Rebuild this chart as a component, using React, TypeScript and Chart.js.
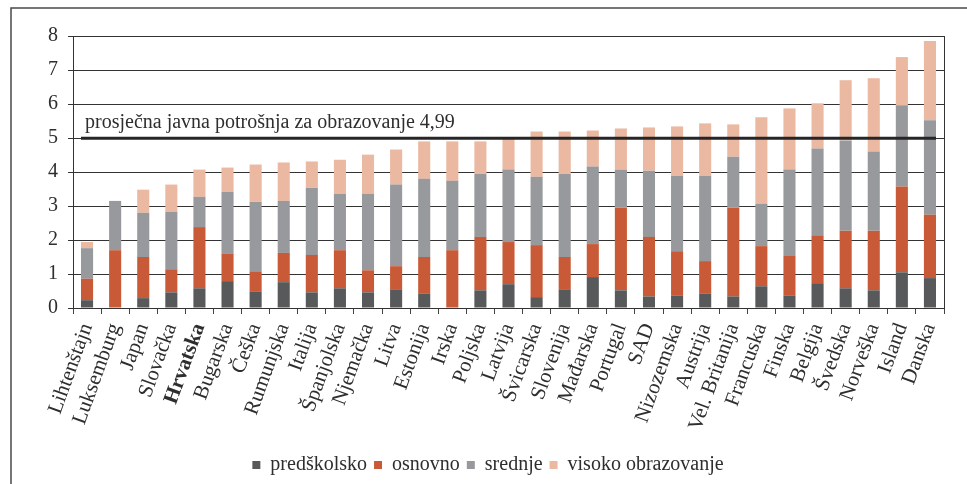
import React, { useEffect, useRef } from 'react';
import { Chart, registerables } from 'chart.js';

Chart.register(...registerables);

const categories = [
  'Lihtenštajn', 'Luksemburg', 'Japan', 'Slovačka', 'Hrvatska', 'Bugarska', 'Češka',
  'Rumunjska', 'Italija', 'Španjolska', 'Njemačka', 'Litva', 'Estonija', 'Irska',
  'Poljska', 'Latvija', 'Švicarska', 'Slovenija', 'Mađarska', 'Portugal', 'SAD',
  'Nizozemska', 'Austrija', 'Vel. Britanija', 'Francuska', 'Finska', 'Belgija',
  'Švedska', 'Norveška', 'Island', 'Danska',
];

const predskolsko = [0.23, 0, 0.29, 0.46, 0.58, 0.79, 0.49, 0.76, 0.46, 0.58, 0.46, 0.55, 0.43, 0, 0.52, 0.70, 0.32, 0.55, 0.91, 0.52, 0.34, 0.37, 0.43, 0.34, 0.64, 0.37, 0.73, 0.58, 0.52, 1.05, 0.88];
const osnovno = [0.63, 1.70, 1.21, 0.68, 1.80, 0.80, 0.59, 0.86, 1.10, 1.12, 0.65, 0.68, 1.07, 1.70, 1.57, 1.24, 1.53, 0.95, 0.97, 2.43, 1.75, 1.30, 0.95, 2.61, 1.18, 1.16, 1.39, 1.69, 1.75, 2.52, 1.86];
const srednje = [0.90, 1.45, 1.30, 1.69, 0.89, 1.83, 2.04, 1.53, 1.98, 1.66, 2.25, 2.40, 2.30, 2.04, 1.86, 2.13, 2.01, 2.45, 2.28, 1.12, 1.95, 2.22, 2.51, 1.50, 1.24, 2.54, 2.57, 2.66, 2.33, 2.39, 2.78];
const visoko = [0.18, 0, 0.68, 0.80, 0.80, 0.71, 1.10, 1.13, 0.77, 1.00, 1.15, 1.03, 1.10, 1.16, 0.95, 0.93, 1.33, 1.24, 1.06, 1.21, 1.27, 1.45, 1.54, 0.95, 2.55, 1.80, 1.33, 1.77, 2.16, 1.42, 2.33];

const seriesNames = ['predškolsko', 'osnovno', 'srednje', 'visoko obrazovanje'];
const seriesColors = ['#58595b', '#c95a37', '#98999c', '#ebb8a1'];

const averageValue = 4.99;
const averageLabel = 'prosječna javna potrošnja za obrazovanje 4,99';
const highlightCategory = 'Hrvatska';

const yMin = 0;
const yMax = 8;
const yStep = 1;

const FONT = '"Liberation Serif", "Times New Roman", serif';
const TEXT = '#2e2e2e';

const framePlugin = {
  id: 'frame',
  beforeDraw(chart: any) {
    const { ctx, width, height } = chart;
    ctx.save();
    ctx.fillStyle = '#ffffff';
    ctx.fillRect(0, 0, width, height);
    ctx.strokeStyle = '#4a4a4a';
    ctx.lineWidth = 1.5;
    ctx.beginPath();
    ctx.moveTo(11, height);
    ctx.lineTo(11, 8);
    ctx.lineTo(width, 8);
    ctx.stroke();
    ctx.restore();
  },
};

const legendShiftPlugin = {
  id: 'legendShift',
  afterLayout(chart: any) {
    const lg = chart.legend;
    if (!lg) return;
    lg.left += 16;
    lg.right += 16;
    lg.top += 1;
    lg.bottom += 1;
  },
};

const plotBoxPlugin = {
  id: 'plotBox',
  beforeDatasetsDraw(chart: any) {
    const { ctx, chartArea } = chart;
    ctx.save();
    ctx.strokeStyle = '#333333';
    ctx.lineWidth = 1;
    ctx.beginPath();
    ctx.moveTo(Math.round(chartArea.right) + 0.5, chartArea.top);
    ctx.lineTo(Math.round(chartArea.right) + 0.5, chartArea.bottom);
    ctx.stroke();
    ctx.restore();
  },
};

const averagePlugin = {
  id: 'averageLine',
  afterDatasetsDraw(chart: any) {
    const { ctx } = chart;
    const meta = chart.getDatasetMeta(0);
    const first: any = meta.data[0];
    const last: any = meta.data[meta.data.length - 1];
    if (!first || !last) return;
    const x0 = first.x - first.width / 2;
    const x1 = last.x + last.width / 2;
    const y = chart.scales.y.getPixelForValue(averageValue);
    ctx.save();
    ctx.strokeStyle = '#262626';
    ctx.lineWidth = 3;
    ctx.beginPath();
    ctx.moveTo(x0, y);
    ctx.lineTo(x1, y);
    ctx.stroke();
    ctx.fillStyle = TEXT;
    ctx.font = `20px ${FONT}`;
    ctx.textAlign = 'left';
    ctx.textBaseline = 'alphabetic';
    ctx.fillText(averageLabel, x0 + 4, y - 10);
    ctx.restore();
  },
};

export default function App() {
  const canvasRef = useRef<HTMLCanvasElement | null>(null);

  useEffect(() => {
    const canvas = canvasRef.current;
    if (!canvas) return;
    const seriesData = [predskolsko, osnovno, srednje, visoko];
    const chart = new Chart(canvas, {
      type: 'bar',
      data: {
        labels: categories,
        datasets: seriesNames.map((name, i) => ({
          label: name,
          data: seriesData[i],
          backgroundColor: seriesColors[i],
          borderWidth: 0,
          barPercentage: 0.43,
          categoryPercentage: 1,
        })),
      },
      options: {
        responsive: false,
        animation: false,
        devicePixelRatio: 1,
        layout: { padding: { top: 36, right: 23, left: 0, bottom: 0 } },
        plugins: {
          tooltip: { enabled: false },
          legend: {
            position: 'bottom',
            labels: {
              boxWidth: 8,
              boxHeight: 8,
              padding: 7,
              color: TEXT,
              font: { family: FONT, size: 20 },
            },
          },
        },
        scales: {
          x: {
            stacked: true,
            offset: true,
            grid: {
              drawOnChartArea: false,
              drawTicks: true,
              tickLength: 6,
              color: '#444444',
              offset: true,
            },
            border: { display: true, color: '#333333', width: 1 },
            ticks: {
              autoSkip: false,
              maxRotation: 70,
              minRotation: 70,
              padding: 6,
              color: TEXT,
              font: (ctx: any) => ({
                family: FONT,
                size: 21,
                weight: categories[ctx.index] === highlightCategory ? 'bold' : 'normal',
              }),
            },
            afterFit: (scale: any) => {
              scale.height = 139;
            },
          },
          y: {
            stacked: true,
            min: yMin,
            max: yMax,
            grid: { color: '#333333', lineWidth: 1, tickLength: 5 },
            border: { display: true, color: '#333333', width: 1 },
            ticks: {
              stepSize: yStep,
              padding: 10,
              color: TEXT,
              font: { family: FONT, size: 20 },
            },
            afterFit: (scale: any) => {
              scale.width = 73;
            },
          },
        },
      },
      plugins: [framePlugin, legendShiftPlugin, plotBoxPlugin, averagePlugin],
    } as any);
    return () => chart.destroy();
  }, []);

  return (
    <div style={{ position: 'absolute', left: 0, top: 0, width: 967, height: 484 }}>
      <canvas ref={canvasRef} width={967} height={484} />
    </div>
  );
}
